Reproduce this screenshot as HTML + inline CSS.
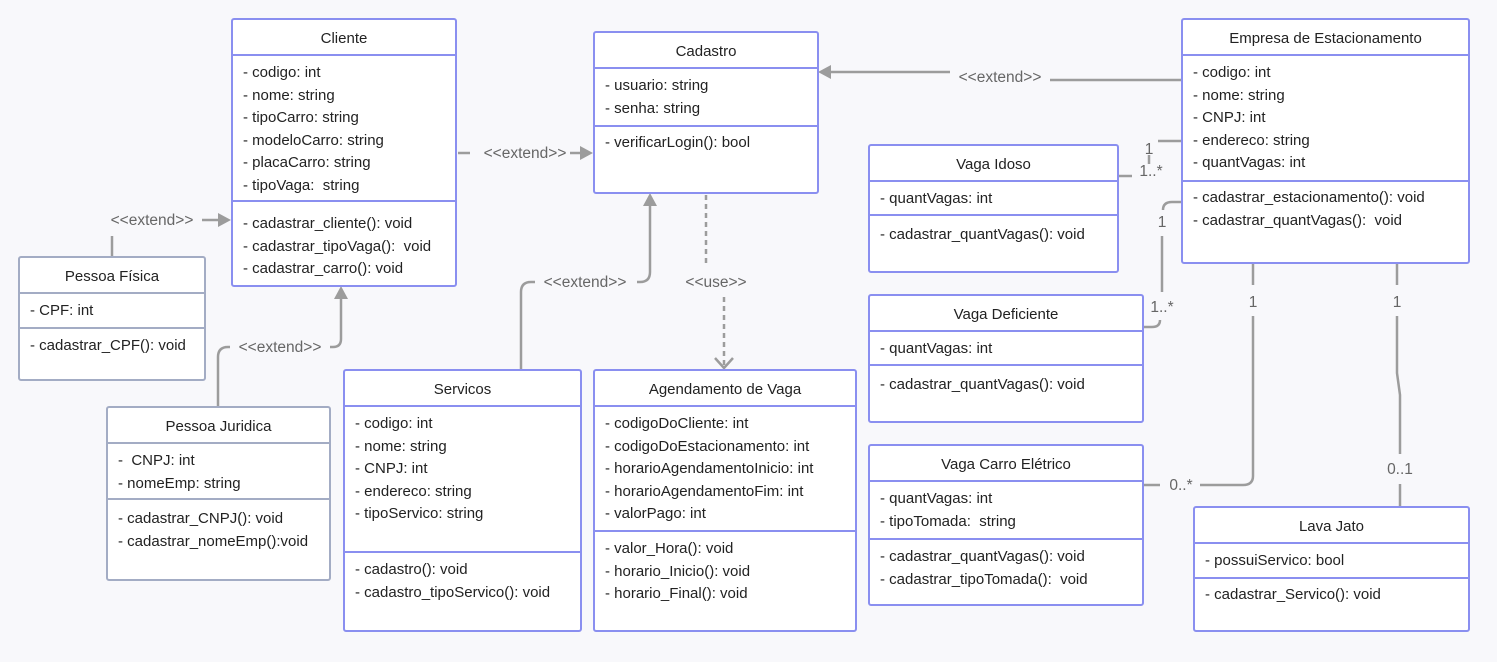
<!DOCTYPE html>
<html><head><meta charset="utf-8"><style>
body{margin:0;width:1497px;height:662px;background:#f8f8fb;position:relative;overflow:hidden;font-family:"Liberation Sans","DejaVu Sans",sans-serif;color:#222;}
.b{position:absolute;background:#fff;border:2px solid #8a8ff0;border-radius:3px;box-sizing:border-box;}
.g{border-color:#a3acc4;}
.h{position:absolute;left:0;right:0;text-align:center;font-size:15px;}
.s{position:absolute;left:0;right:0;border-top:2px solid #8a8ff0;}
.g .s{border-top-color:#a3acc4;}
.t{position:absolute;left:10px;font-size:15px;line-height:22.5px;white-space:pre;}
svg{position:absolute;left:0;top:0;}
.lb{font-family:"Liberation Sans",sans-serif;font-size:15.5px;fill:#666;}
</style></head><body>
<svg width="1497" height="662">
<g stroke="#9c9c9c" stroke-width="2.5" fill="none">
<line x1="458" y1="153" x2="470" y2="153"/><line x1="570" y1="153" x2="582" y2="153"/>
<line x1="1181" y1="80" x2="1050" y2="80"/><line x1="950" y1="72" x2="830" y2="72"/>
<line x1="112" y1="256" x2="112" y2="236"/><line x1="202" y1="220" x2="220" y2="220"/>
<path d="M218 406 V357 Q218 347 228 347 H230"/><path d="M330 347 H333 Q341 347 341 339 V298"/>
<path d="M521 369 V292 Q521 282 531 282 H535"/><path d="M637 282 H640 Q650 282 650 272 V205"/>
<path d="M1181 141 H1158"/><path d="M1149 155 V164"/><line x1="1118" y1="176" x2="1132" y2="176"/>
<path d="M1181 202 H1172 Q1163 202 1163 210"/><path d="M1162 236 V292"/><path d="M1143 327 H1152 Q1160 327 1160 320"/>
<path d="M1253 263 V285"/><path d="M1253 316 V476 Q1253 485 1243 485 H1200"/><line x1="1143" y1="485" x2="1160" y2="485"/>
<path d="M1397 263 V285"/><path d="M1397 316 V373 L1400 395 V454"/><path d="M1400 484 V506"/>
</g>
<g stroke="#9c9c9c" stroke-width="2.5" fill="none" stroke-dasharray="5,4">
<line x1="706" y1="195" x2="706" y2="265"/><line x1="724" y1="297" x2="724" y2="367"/>
</g>
<path d="M715 358 L724 368 L733 358" stroke="#9c9c9c" stroke-width="2.5" fill="none"/>
<g fill="#9c9c9c">
<polygon points="593,153 580,146 580,160"/>
<polygon points="818,72 831,65 831,79"/>
<polygon points="231,220 218,213 218,227"/>
<polygon points="341,286 334,299 348,299"/>
<polygon points="650,193 643,206 657,206"/>
</g>
<g class="lb" text-anchor="middle">
<text x="525" y="158">&lt;&lt;extend&gt;&gt;</text>
<text x="1000" y="82">&lt;&lt;extend&gt;&gt;</text>
<text x="152" y="225">&lt;&lt;extend&gt;&gt;</text>
<text x="280" y="352">&lt;&lt;extend&gt;&gt;</text>
<text x="585" y="287">&lt;&lt;extend&gt;&gt;</text>
<text x="716" y="287">&lt;&lt;use&gt;&gt;</text>
<text x="1149" y="154">1</text>
<text x="1151" y="176">1..*</text>
<text x="1162" y="227">1</text>
<text x="1162" y="312">1..*</text>
<text x="1253" y="307">1</text>
<text x="1181" y="490">0..*</text>
<text x="1397" y="307">1</text>
<text x="1400" y="474">0..1</text>
</g>
</svg>

<div class="b" style="left:231px;top:18px;width:226px;height:269px">
<div class="h" style="top:10px">Cliente</div><div class="s" style="top:34px"></div>
<div class="t" style="top:42px">- codigo: int
- nome: string
- tipoCarro: string
- modeloCarro: string
- placaCarro: string
- tipoVaga:  string</div>
<div class="s" style="top:180px"></div>
<div class="t" style="top:193px">- cadastrar_cliente(): void
- cadastrar_tipoVaga():  void
- cadastrar_carro(): void</div></div>

<div class="b" style="left:593px;top:31px;width:226px;height:163px">
<div class="h" style="top:10px">Cadastro</div><div class="s" style="top:34px"></div>
<div class="t" style="top:42px">- usuario: string
- senha: string</div>
<div class="s" style="top:92px"></div>
<div class="t" style="top:99px">- verificarLogin(): bool</div></div>

<div class="b" style="left:1181px;top:18px;width:289px;height:246px">
<div class="h" style="top:10px">Empresa de Estacionamento</div><div class="s" style="top:34px"></div>
<div class="t" style="top:42px">- codigo: int
- nome: string
- CNPJ: int
- endereco: string
- quantVagas: int</div>
<div class="s" style="top:160px"></div>
<div class="t" style="top:167px">- cadastrar_estacionamento(): void
- cadastrar_quantVagas():  void</div></div>

<div class="b g" style="left:18px;top:256px;width:188px;height:125px">
<div class="h" style="top:10px">Pessoa  Física</div><div class="s" style="top:34px"></div>
<div class="t" style="top:42px">- CPF: int</div>
<div class="s" style="top:69px"></div>
<div class="t" style="top:77px">- cadastrar_CPF(): void</div></div>

<div class="b g" style="left:106px;top:406px;width:225px;height:175px">
<div class="h" style="top:10px">Pessoa Juridica</div><div class="s" style="top:34px"></div>
<div class="t" style="top:42px">-  CNPJ: int
- nomeEmp: string</div>
<div class="s" style="top:90px"></div>
<div class="t" style="top:100px">- cadastrar_CNPJ(): void
- cadastrar_nomeEmp():void</div></div>

<div class="b" style="left:343px;top:369px;width:239px;height:263px">
<div class="h" style="top:10px">Servicos</div><div class="s" style="top:34px"></div>
<div class="t" style="top:42px">- codigo: int
- nome: string
- CNPJ: int
- endereco: string
- tipoServico: string</div>
<div class="s" style="top:180px"></div>
<div class="t" style="top:188px">- cadastro(): void
- cadastro_tipoServico(): void</div></div>

<div class="b" style="left:593px;top:369px;width:264px;height:263px">
<div class="h" style="top:10px">Agendamento de Vaga</div><div class="s" style="top:34px"></div>
<div class="t" style="top:42px">- codigoDoCliente: int
- codigoDoEstacionamento: int
- horarioAgendamentoInicio: int
- horarioAgendamentoFim: int
- valorPago: int</div>
<div class="s" style="top:159px"></div>
<div class="t" style="top:167px">- valor_Hora(): void
- horario_Inicio(): void
- horario_Final(): void</div></div>

<div class="b" style="left:868px;top:144px;width:251px;height:129px">
<div class="h" style="top:10px">Vaga Idoso</div><div class="s" style="top:34px"></div>
<div class="t" style="top:42px">- quantVagas: int</div>
<div class="s" style="top:68px"></div>
<div class="t" style="top:78px">- cadastrar_quantVagas(): void</div></div>

<div class="b" style="left:868px;top:294px;width:276px;height:129px">
<div class="h" style="top:10px">Vaga Deficiente</div><div class="s" style="top:34px"></div>
<div class="t" style="top:42px">- quantVagas: int</div>
<div class="s" style="top:68px"></div>
<div class="t" style="top:78px">- cadastrar_quantVagas(): void</div></div>

<div class="b" style="left:868px;top:444px;width:276px;height:162px">
<div class="h" style="top:10px">Vaga Carro Elétrico</div><div class="s" style="top:34px"></div>
<div class="t" style="top:42px">- quantVagas: int
- tipoTomada:  string</div>
<div class="s" style="top:92px"></div>
<div class="t" style="top:100px">- cadastrar_quantVagas(): void
- cadastrar_tipoTomada():  void</div></div>

<div class="b" style="left:1193px;top:506px;width:277px;height:126px">
<div class="h" style="top:10px">Lava Jato</div><div class="s" style="top:34px"></div>
<div class="t" style="top:42px">- possuiServico: bool</div>
<div class="s" style="top:69px"></div>
<div class="t" style="top:76px">- cadastrar_Servico(): void</div></div>
</body></html>
